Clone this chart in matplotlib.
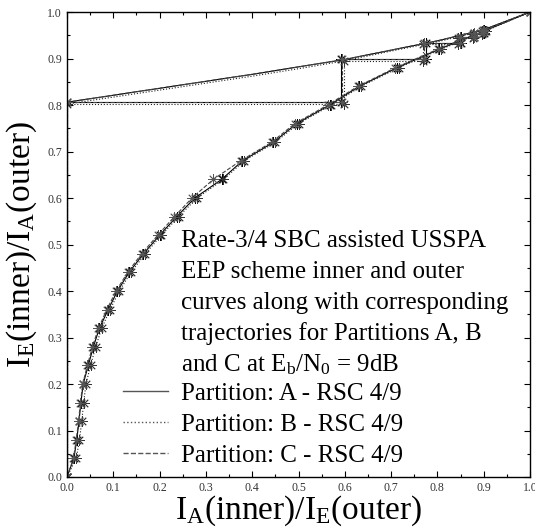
import matplotlib
matplotlib.use("Agg")
import matplotlib.pyplot as plt
from matplotlib.lines import Line2D
import numpy as np

plt.rcParams['font.family'] = ['Liberation Serif', 'DejaVu Serif']
plt.rcParams['mathtext.fontset'] = 'custom'
plt.rcParams['mathtext.rm'] = 'Liberation Serif'
plt.rcParams['mathtext.it'] = 'Liberation Serif:italic'

# Outer decoder EXIT curves (x = I_A(inner)/I_E(outer), y = I_E(inner)/I_A(outer))
outer_y = [0.00, 0.04, 0.08, 0.12, 0.16, 0.20, 0.24, 0.28, 0.32, 0.36, 0.40, 0.44, 0.48,
           0.52, 0.56, 0.60, 0.64, 0.68, 0.72, 0.76, 0.80, 0.84, 0.88, 0.92, 0.96, 1.00]
outer_x_A = [0.000, 0.015, 0.021, 0.026, 0.030, 0.035, 0.046, 0.057, 0.070, 0.089, 0.109,
             0.134, 0.165, 0.200, 0.237, 0.276, 0.334, 0.379, 0.446, 0.496, 0.567, 0.631,
             0.712, 0.804, 0.903, 1.000]
outer_x_B = [0.000, 0.020, 0.027, 0.032, 0.036, 0.041, 0.051, 0.062, 0.075, 0.093, 0.113,
             0.138, 0.169, 0.204, 0.241, 0.281, 0.338, 0.383, 0.450, 0.500, 0.571, 0.635,
             0.716, 0.808, 0.906, 1.000]
outer_x_C = [0.000, 0.014, 0.020, 0.025, 0.029, 0.034, 0.044, 0.055, 0.068, 0.086, 0.106,
             0.131, 0.161, 0.196, 0.232, 0.270, 0.316, 0.375, 0.442, 0.492, 0.563, 0.628,
             0.709, 0.801, 0.900, 1.000]

# Inner decoder EXIT curves
inner_x = [0.0, 0.1, 0.2, 0.3, 0.4, 0.5, 0.6, 0.7, 0.8, 0.9, 1.0]
inner_y_A = [0.806, 0.821, 0.836, 0.851, 0.866, 0.882, 0.898, 0.918, 0.938, 0.962, 1.000]
inner_y_B = [0.802, 0.817, 0.832, 0.847, 0.862, 0.878, 0.895, 0.916, 0.936, 0.960, 1.000]
inner_y_C = [0.806, 0.821, 0.836, 0.851, 0.866, 0.882, 0.898, 0.918, 0.938, 0.962, 1.000]

# Decoding trajectories
traj_x_A = [0.0, 0.0, 0.592, 0.592, 0.775, 0.775, 0.850, 0.850, 0.880, 0.880, 0.900, 0.900]
traj_y_A = [0.0, 0.807, 0.807, 0.898, 0.898, 0.934, 0.934, 0.947, 0.947, 0.955, 0.955, 0.962]
traj_x_B = [0.0, 0.0, 0.598, 0.598, 0.768, 0.768, 0.845, 0.845, 0.876, 0.876, 0.897, 0.897]
traj_y_B = [0.0, 0.803, 0.803, 0.895, 0.895, 0.932, 0.932, 0.945, 0.945, 0.953, 0.953, 0.960]
traj_x_C = [0.0, 0.0, 0.594, 0.594, 0.772, 0.772, 0.848, 0.848, 0.878, 0.878, 0.898, 0.898]
traj_y_C = [0.0, 0.807, 0.807, 0.898, 0.898, 0.933, 0.933, 0.946, 0.946, 0.954, 0.954, 0.961]

labels = ["Partition: A - RSC 4/9", "Partition: B - RSC 4/9", "Partition: C - RSC 4/9"]
title_lines = ["Rate-3/4 SBC assisted USSPA",
               "EEP scheme inner and outer",
               "curves along with corresponding",
               "trajectories for Partitions A, B",
               r"and C at E$_\mathrm{b}$/N$_\mathrm{0}$ = 9dB"]

fig = plt.figure(figsize=(5.35, 5.29), dpi=100)
ax = fig.add_axes([0.1252, 0.0983, 0.8655, 0.879])

star = (8, 2, 0)
styles = [('-', '#000000', '#000000'), (':', '#222222', '#333333'), ('--', '#444444', '#555555')]
outers = [outer_x_A, outer_x_B, outer_x_C]
inners = [inner_y_A, inner_y_B, inner_y_C]
trajx = [traj_x_A, traj_x_B, traj_x_C]
trajy = [traj_y_A, traj_y_B, traj_y_C]

for i in range(3):
    ls, lc, mc = styles[i]
    ax.plot(outers[i], outer_y, linestyle=ls, color=lc, lw=0.8,
            marker=star, ms=7.5, mew=0.6, mec=mc)
    ax.plot(inner_x, inners[i], linestyle=ls, color=lc, lw=0.8)
    ax.plot(trajx[i], trajy[i], linestyle=ls, color=lc, lw=0.8,
            marker=star, ms=7.5, mew=0.6, mec=mc)

ax.set_xlim(0, 1)
ax.set_ylim(0, 1)
ax.set_xticks(np.arange(0, 1.01, 0.1))
ax.set_yticks(np.arange(0, 1.01, 0.1))
ax.set_xticks(np.arange(0.05, 1.0, 0.1), minor=True)
ax.set_yticks(np.arange(0.05, 1.0, 0.1), minor=True)
ax.set_xticklabels([f"{v:.1f}" for v in np.arange(0, 1.01, 0.1)])
ax.set_yticklabels([f"{v:.1f}" for v in np.arange(0, 1.01, 0.1)])
ax.tick_params(which='both', direction='in', top=True, right=True, width=0.8,
               labelsize=8.5, labelcolor='#333333')
ax.tick_params(which='major', length=4, pad=3.5)
ax.tick_params(which='minor', length=2)
for s in ax.spines.values():
    s.set_linewidth(1.0)

ax.set_xlabel(r"I$_\mathrm{A}$(inner)/I$_\mathrm{E}$(outer)", fontsize=24)
ax.set_ylabel(r"I$_\mathrm{E}$(inner)/I$_\mathrm{A}$(outer)", fontsize=24)
ax.xaxis.set_label_coords(0.5, -0.035)
ax.yaxis.set_label_coords(-0.06, 0.5)

baselines = [0.4946, 0.428, 0.361, 0.295, 0.228]
for line, yb in zip(title_lines, baselines):
    ax.text(0.246, yb, line, transform=ax.transAxes, fontsize=18, va='baseline', ha='left')

handles = [Line2D([], [], linestyle=s[0], color='#555555', lw=1.0) for s in styles]
leg = ax.legend(handles, labels, loc='upper left', bbox_to_anchor=(0.121, 0.203),
                frameon=False, fontsize=18, handlelength=1.8, handletextpad=0.5,
                labelspacing=0.33, borderpad=0, borderaxespad=0)

fig.savefig("out.png", dpi=100)
